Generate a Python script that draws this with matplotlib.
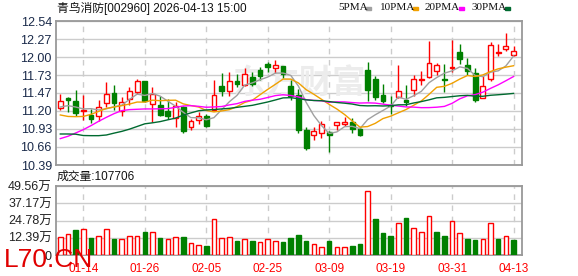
import matplotlib
matplotlib.use('Agg')
import matplotlib.pyplot as plt
from matplotlib.patches import Rectangle

plt.rcParams['font.family'] = ['Liberation Sans', 'Noto Sans CJK SC']

# ---- data ----
dates = ['01-09', '01-12', '01-13', '01-14', '01-15', '01-16', '01-19', '01-20', '01-21', '01-22',
         '01-23', '01-26', '01-27', '01-28', '01-29', '01-30', '02-02', '02-03', '02-04', '02-05',
         '02-06', '02-09', '02-10', '02-11', '02-12', '02-13', '02-24', '02-25', '02-26', '02-27',
         '03-02', '03-03', '03-04', '03-05', '03-06', '03-09', '03-10', '03-11', '03-12', '03-13',
         '03-16', '03-17', '03-18', '03-19', '03-20', '03-23', '03-24', '03-25', '03-26', '03-27',
         '03-30', '03-31', '04-01', '04-02', '04-03', '04-07', '04-08', '04-09', '04-10', '04-13']

opens = [11.237, 11.386, 11.351, 11.197, 11.142, 11.122, 11.316, 11.470, 11.197, 11.376,
         11.485, 11.640, 11.296, 11.286, 11.202, 11.092, 11.251, 10.958, 11.067, 11.127,
         11.212, 11.575, 11.495, 11.650, 11.580, 11.710, 11.814, 11.893, 11.834, 11.873,
         11.575, 11.436, 10.918, 10.838, 10.868, 10.883, 10.988, 11.008, 11.033, 10.933,
         11.814, 11.679, 11.440, 11.281, 11.401, 11.356, 11.515, 11.664, 11.704, 11.794,
         11.679, 11.834, 12.082, 11.888, 11.764, 11.391, 11.674, 12.057, 12.122, 12.033]
highs = [11.455, 11.406, 11.515, 11.440, 11.227, 11.366, 11.625, 11.590, 11.406, 11.560,
         11.680, 11.640, 11.560, 11.416, 11.376, 11.336, 11.266, 11.082, 11.182, 11.152,
         11.664, 11.764, 11.774, 11.749, 11.839, 11.774, 11.853, 11.928, 11.963, 11.873,
         11.664, 11.530, 10.953, 10.953, 11.052, 10.893, 11.037, 11.102, 11.092, 10.958,
         11.923, 11.714, 11.600, 11.420, 11.888, 11.590, 11.739, 11.799, 12.246, 11.908,
         11.903, 12.261, 12.202, 11.988, 11.839, 11.714, 12.232, 12.202, 12.361, 12.172]
lows = [11.207, 11.187, 11.127, 11.067, 11.013, 11.043, 11.256, 11.217, 11.117, 11.291,
        11.455, 11.326, 11.028, 11.117, 11.082, 10.953, 10.863, 10.908, 11.003, 10.953,
        11.192, 11.416, 11.416, 11.550, 11.570, 11.565, 11.664, 11.774, 11.764, 11.689,
        11.366, 10.868, 10.620, 10.759, 10.799, 10.580, 10.918, 10.978, 10.863, 10.819,
        11.351, 11.366, 11.316, 11.147, 11.386, 11.276, 11.426, 11.590, 11.689, 11.729,
        11.475, 11.774, 11.898, 11.729, 11.326, 11.386, 11.649, 12.013, 12.087, 12.013]
closes = [11.346, 11.361, 11.162, 11.212, 11.072, 11.251, 11.450, 11.311, 11.331, 11.500,
          11.650, 11.351, 11.455, 11.132, 11.127, 11.276, 10.898, 11.052, 11.122, 10.978,
          11.436, 11.490, 11.645, 11.595, 11.749, 11.600, 11.724, 11.848, 11.888, 11.754,
          11.426, 10.918, 10.645, 10.903, 11.003, 10.838, 11.033, 11.033, 10.928, 10.834,
          11.505, 11.401, 11.351, 11.266, 11.500, 11.331, 11.674, 11.679, 11.913, 11.883,
          11.654, 11.853, 11.973, 11.799, 11.356, 11.565, 12.182, 12.077, 12.167, 12.092]

ma5 = [11.256, 11.276, 11.256, 11.227, 11.231, 11.212, 11.229, 11.259, 11.283, 11.369,
       11.448, 11.429, 11.457, 11.418, 11.343, 11.268, 11.178, 11.097, 11.095, 11.065,
       11.097, 11.216, 11.334, 11.429, 11.583, 11.616, 11.663, 11.703, 11.762, 11.763,
       11.728, 11.567, 11.326, 11.129, 10.979, 10.861, 10.884, 10.962, 10.967, 10.933,
       11.067, 11.140, 11.204, 11.271, 11.405, 11.370, 11.424, 11.490, 11.619, 11.696,
       11.761, 11.796, 11.855, 11.832, 11.727, 11.709, 11.775, 11.796, 11.869, 12.017]
ma10 = [11.137, 11.115, 11.112, 11.115, 11.147, 11.190, 11.235, 11.256, 11.276, 11.300,
        11.330, 11.329, 11.358, 11.350, 11.356, 11.358, 11.303, 11.277, 11.256, 11.204,
        11.183, 11.197, 11.216, 11.262, 11.324, 11.357, 11.439, 11.519, 11.595, 11.673,
        11.672, 11.615, 11.515, 11.446, 11.371, 11.295, 11.226, 11.144, 11.048, 10.956,
        10.964, 11.012, 11.083, 11.119, 11.169, 11.218, 11.282, 11.347, 11.445, 11.550,
        11.565, 11.610, 11.673, 11.726, 11.712, 11.735, 11.786, 11.826, 11.851, 11.872]
ma20 = [10.784, 10.819, 10.868, 10.918, 10.978, 11.043, 11.102, 11.157, 11.202, 11.217,
        11.222, 11.227, 11.227, 11.229, 11.232, 11.251, 11.271, 11.276, 11.266, 11.252,
        11.257, 11.263, 11.287, 11.306, 11.340, 11.358, 11.371, 11.398, 11.426, 11.439,
        11.428, 11.406, 11.366, 11.354, 11.348, 11.326, 11.333, 11.332, 11.322, 11.315,
        11.318, 11.314, 11.299, 11.283, 11.270, 11.257, 11.254, 11.246, 11.247, 11.253,
        11.265, 11.311, 11.378, 11.423, 11.441, 11.477, 11.534, 11.587, 11.648, 11.711]
ma30 = [10.853, 10.853, 10.850, 10.830, 10.828, 10.828, 10.838, 10.866, 10.892, 10.925,
        10.965, 11.005, 11.020, 11.038, 11.065, 11.090, 11.135, 11.168, 11.200, 11.212,
        11.218, 11.227, 11.236, 11.251, 11.266, 11.281, 11.306, 11.331, 11.361, 11.392,
        11.395, 11.380, 11.363, 11.353, 11.350, 11.337, 11.323, 11.313, 11.300, 11.278,
        11.273, 11.275, 11.271, 11.276, 11.288, 11.290, 11.316, 11.337, 11.363, 11.393,
        11.400, 11.412, 11.424, 11.430, 11.417, 11.416, 11.431, 11.439, 11.448, 11.459]

# volume in 万 and colour of each volume bar (R = up day, G = down day)
volume = [12.69, 14.84, 17.96, 18.43, 12.21, 13.65, 18.43, 11.49, 11.25, 13.65,
          13.65, 16.52, 16.52, 12.21, 11.25, 12.69, 12.93, 8.62, 6.94, 6.46,
          25.62, 11.97, 12.69, 10.05, 11.25, 10.05, 9.34, 11.25, 10.05, 9.34,
          12.21, 14.36, 10.05, 7.66, 5.51, 10.05, 5.51, 5.51, 6.46, 7.90,
          45.73, 25.86, 15.80, 13.65, 22.74, 26.57, 19.15, 16.28, 27.77, 16.52,
          13.65, 24.18, 15.56, 11.49, 10.77, 11.25, 22.74, 11.49, 13.41, 10.77]
vol_color = list('RRGRGRRGRRRGRGRRGRRGRRRGRGRRRGGGGRRGRRGGRGGGRGRRRGGRRGGRRGRG')

price_ticks = [10.39, 10.66, 10.93, 11.20, 11.47, 11.73, 12.00, 12.27, 12.54]
vol_ticks = [0, 12.39, 24.78, 37.17, 49.56]
vol_tick_labels = ['0', '12.39万', '24.78万', '37.17万', '49.56万']

title = '青鸟消防[002960] 2026-04-13 15:00'
vol_title = '成交量:107706'
ma_names = ['5PMA', '10PMA', '20PMA', '30PMA']
ma_colors = ['#a0a0a0', '#f0a000', '#ff00ff', '#006a30']

RED = '#ff0000'
GREEN = '#008000'

W, H = 578, 276
fig = plt.figure(figsize=(W / 100, H / 100), dpi=100)


def box(x0, y0, x1, y1):
    return [x0 / W, 1 - y1 / H, (x1 - x0) / W, (y1 - y0) / H]


ax = fig.add_axes(box(56, 21, 522, 165))
axv = fig.add_axes(box(56, 186, 522, 255))

xs = list(range(len(closes)))
tick_pos = xs[3::8]
tick_lab = dates[3::8]

for a in (ax, axv):
    a.set_xlim(-0.56, 60.1)
    a.set_xticks(tick_pos)
    a.xaxis.grid(True, color='#cccccc', ls=(0, (4, 4)), lw=1)
    a.yaxis.grid(True, color='#cccccc', ls='-', lw=1)
    a.set_axisbelow(True)
    a.tick_params(length=0)
    for s in a.spines.values():
        s.set_color('#999999')
        s.set_linewidth(1.3)

# faint site logo
ax.text(0.52, 0.56, '东方财富', transform=ax.transAxes, fontsize=24, fontweight='bold',
        color='#ececec', ha='center', va='center', zorder=1,
        family=['Noto Sans CJK SC'])

# candles
for i in xs:
    o, h, l, c = opens[i], highs[i], lows[i], closes[i]
    up = c >= o
    col = RED if up else GREEN
    ax.vlines(i, l, h, color=col, lw=1, zorder=3)
    ax.bar(i, max(abs(c - o), 0.008), bottom=min(o, c), width=0.62,
           facecolor='white' if up else GREEN, edgecolor=col, lw=1, zorder=4)

for vals, col in zip([ma5, ma10, ma20, ma30], ma_colors):
    ax.plot(xs, vals, color=col, lw=1, zorder=5)

ax.set_ylim(10.39, 12.54)
ax.set_yticks(price_ticks)
ax.set_yticklabels(['%.2f' % t for t in price_ticks], fontsize=9, color='#1a2a4a')
ax.tick_params(labelbottom=False, pad=3)

# volume
for i in xs:
    up = vol_color[i] == 'R'
    axv.bar(i, volume[i], width=0.6, facecolor='white' if up else GREEN,
            edgecolor=RED if up else GREEN, lw=1, zorder=3)
axv.set_ylim(0, 49.56)
axv.set_yticks(vol_ticks)
axv.set_yticklabels(vol_tick_labels, fontsize=9, color='#222222')
axv.set_xticklabels(tick_lab, fontsize=8.5, color=RED)
axv.tick_params(axis='x', pad=6)
axv.tick_params(axis='y', pad=3)

# titles
fig.text(57 / W, 1 - 8 / H, title, fontsize=8.5, va='center', ha='left', color='#111111')
fig.text(57 / W, 1 - 177 / H, vol_title, fontsize=8.5, va='center', ha='left', color='#111111')

# legend
leg_x = [338, 380, 425, 472]
sq_x = [366, 413, 459, 505]
for name, col, tx, sx in zip(ma_names, ma_colors, leg_x, sq_x):
    fig.text(tx / W, 1 - 8 / H, name, fontsize=8, va='center', ha='left',
             family=['Liberation Serif'], color='#111111')
    fig.add_artist(Rectangle((sx / W, 1 - 10 / H), 5 / W, 3 / H,
                             transform=fig.transFigure, color=col))

# watermark
fig.text(4 / W, 1 - 267 / H, 'L70.CN', fontsize=19, color='#e00000', va='baseline',
         ha='left', zorder=10)

fig.savefig('out.png', dpi=100)
